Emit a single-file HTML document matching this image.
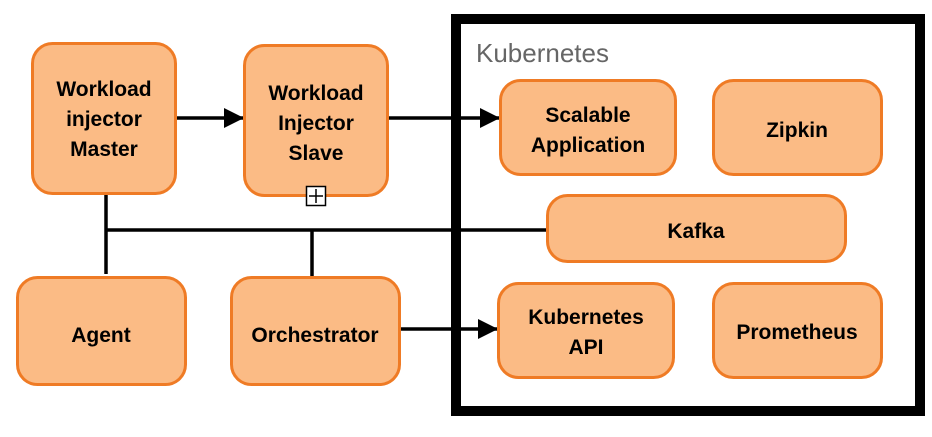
<!DOCTYPE html>
<html><head><style>html,body{margin:0;padding:0;background:#fff}</style></head><body>
<svg width="932" height="432" viewBox="0 0 932 432" xmlns="http://www.w3.org/2000/svg" font-family="Liberation Sans, Arial, sans-serif">
<defs>
<marker id="b" viewBox="0 0 10 10" refX="10" refY="5" markerWidth="20" markerHeight="20" orient="auto" markerUnits="userSpaceOnUse" preserveAspectRatio="none"><path d="M0,0 L10,5 L0,10 z"/></marker></defs>
<rect x="456" y="19" width="464" height="392" fill="#fff" stroke="#000" stroke-width="10"/>
<text x="476" y="62" font-size="26" fill="#666">Kubernetes</text>
<g stroke="#000" stroke-width="3.5" fill="none">
<line x1="176" y1="118" x2="244" y2="118" marker-end="url(#b)"/>
<line x1="389" y1="118" x2="500" y2="118" marker-end="url(#b)"/>
<line x1="401" y1="329" x2="498" y2="329" marker-end="url(#b)"/>
<line x1="106" y1="195" x2="106" y2="274"/>
<line x1="106" y1="230" x2="546" y2="230"/>
<line x1="312" y1="230" x2="312" y2="277"/>
</g>
<g fill="#FBBB85" stroke="#EF7B25" stroke-width="3">
<rect x="32.5" y="43.5" width="143" height="150" rx="20"/>
<rect x="244.5" y="45.5" width="143" height="150" rx="20"/>
<rect x="500.5" y="80.5" width="175" height="94" rx="20"/>
<rect x="713.5" y="80.5" width="168" height="94" rx="20"/>
<rect x="547.5" y="195.5" width="298" height="66" rx="20"/>
<rect x="498.5" y="283.5" width="175" height="94" rx="20"/>
<rect x="713.5" y="283.5" width="168" height="94" rx="20"/>
<rect x="17.5" y="277.5" width="168" height="107" rx="20"/>
<rect x="231.5" y="277.5" width="168" height="107" rx="20"/>
</g>
<rect x="306.5" y="186.5" width="19" height="19" fill="#fff" stroke="#000" stroke-width="1.5"/>
<path d="M316 189v14M309 196h14" stroke="#000" stroke-width="1.5"/>
<g font-size="21" font-weight="bold" text-anchor="middle" fill="#000">
<text x="104" y="96">Workload</text><text x="104" y="126">injector</text><text x="104" y="156">Master</text>
<text x="316" y="100">Workload</text><text x="316" y="130">Injector</text><text x="316" y="160">Slave</text>
<text x="588" y="122">Scalable</text><text x="588" y="152">Application</text>
<text x="797" y="137">Zipkin</text>
<text x="696" y="238">Kafka</text>
<text x="586" y="324">Kubernetes</text><text x="586" y="354">API</text>
<text x="797" y="339">Prometheus</text>
<text x="101" y="342">Agent</text>
<text x="315" y="342">Orchestrator</text>
</g>
</svg>
</body></html>
